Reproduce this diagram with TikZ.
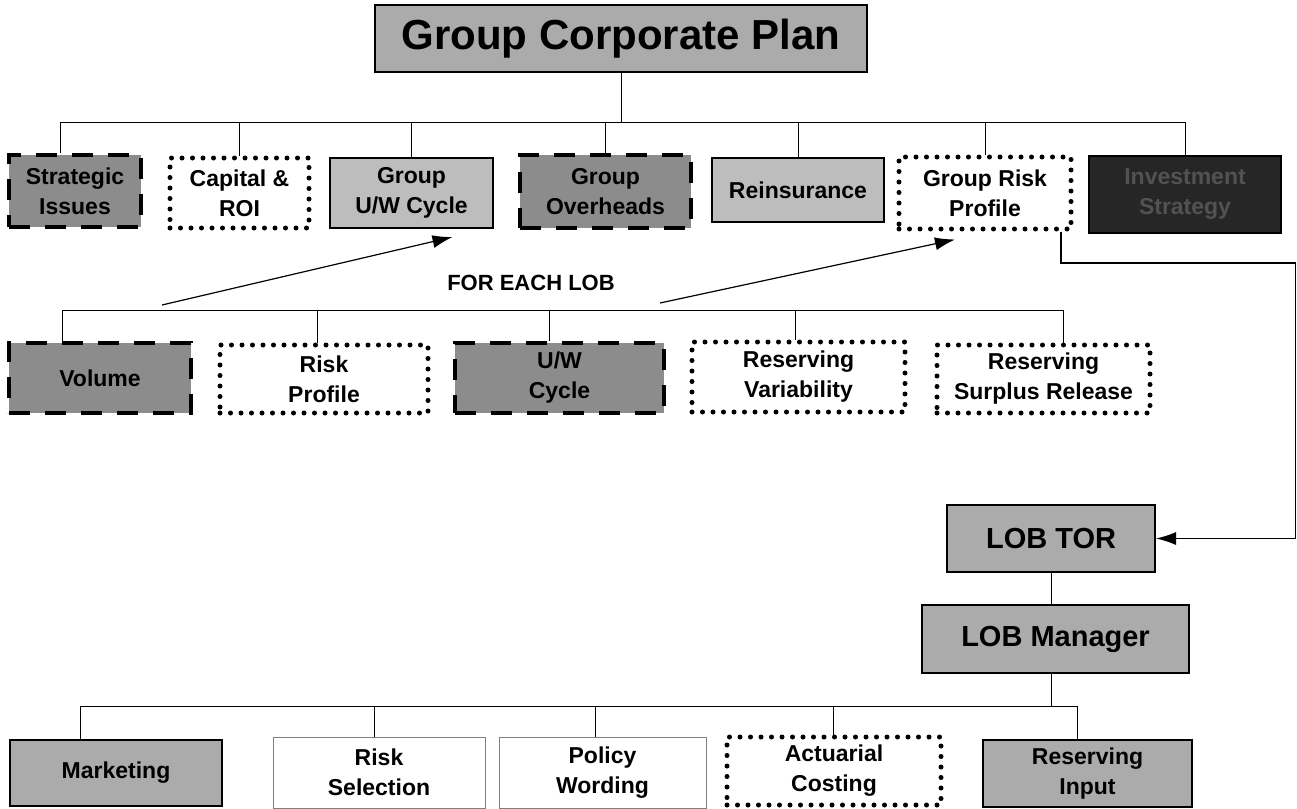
\documentclass[tikz,border=0pt]{standalone}
\usepackage{fontspec}
\setmainfont{Liberation Sans}
\usetikzlibrary{arrows.meta}

\begin{document}
\begin{tikzpicture}[x=1pt, y=-1pt, font=\bfseries\fontsize{23}{30}\selectfont,
  box/.style={draw, line width=2pt, align=center, inner sep=2pt},
  lite/.style={box, fill=black!26},
  grid/.style={box, fill=black!33},
  dashbox/.style={draw, line width=4.5pt, dash pattern=on 21pt off 15pt, fill=black!45, align=center, inner sep=2pt},
  dotbox/.style={draw, line width=5pt, line cap=round, dash pattern=on 0pt off 10.5pt, fill=white, align=center, inner sep=2pt},
  thinbox/.style={draw=black!50, line width=1pt, fill=white, align=center, inner sep=2pt},
  link/.style={line width=1pt},
  arr/.style={-{Latex[length=20pt, width=13pt]}, line width=1.2pt}]
\useasboundingbox (0,0) rectangle (1297,808);
\node[grid, minimum width=492pt, minimum height=67pt, font=\bfseries\fontsize{42}{50}\selectfont] (title) at (621,38.5) {Group Corporate Plan};
% group level
\node[dashbox, minimum width=132pt, minimum height=72pt] (strat) at (75,191) {Strategic\\Issues};
\node[dotbox, minimum width=139pt, minimum height=70pt] (capital) at (239.5,193) {Capital \&\\ROI};
\node[lite, minimum width=163pt, minimum height=70pt] (guw) at (411.5,193) {Group\\U/W Cycle};
\node[dashbox, minimum width=171pt, minimum height=73pt] (overh) at (605.5,191.5) {Group\\Overheads};
\node[lite, minimum width=172pt, minimum height=64pt] (reins) at (798,190) {Reinsurance};
\node[dotbox, minimum width=172pt, minimum height=72pt] (grp) at (985,193) {Group Risk\\Profile};
\node[box, fill=black!85, text=black!68, minimum width=192pt, minimum height=77pt] (invest) at (1185,194.5) {Investment\\Strategy};
\coordinate (bus1) at (621,122);
\draw[link] (title) -- (bus1);
\draw[link] (bus1) -| ([xshift=-15pt]strat.north);
\foreach \n in {capital,guw,overh,reins,grp,invest} \draw[link] (bus1) -| (\n.north);
% for each lob
\node[font=\bfseries\fontsize{22}{26}\selectfont] (each) at (531,283) {FOR EACH LOB};
\node[dashbox, minimum width=182pt, minimum height=70pt] (vol) at (100,378) {Volume};
\node[dotbox, minimum width=208pt, minimum height=68pt] (rprof) at (324,379) {Risk\\Profile};
\node[dashbox, minimum width=209pt, minimum height=70pt] (uw) at (559.5,378) {U/W\\Cycle};
\node[dotbox, minimum width=213pt, minimum height=70pt] (resvar) at (798.5,377) {Reserving\\Variability};
\node[dotbox, minimum width=213pt, minimum height=68pt] (surplus) at (1043.5,379) {Reserving\\Surplus Release};
\coordinate (bus2) at (62,310);
\draw[link] (bus2) -| ([xshift=-38pt]vol.north);
\foreach \n/\s in {rprof/-7, uw/-10, resvar/-3, surplus/20} \draw[link] (bus2) -| ([xshift=\s pt]\n.north);
\coordinate (a1) at (162,305);
\coordinate (a2) at (660,303);
\draw[arr] (a1) -- ([xshift=41pt, yshift=-8pt]guw.south);
\draw[arr] (a2) -- ([xshift=-30pt, yshift=-8pt]grp.south);
% lob
\node[grid, minimum width=208pt, minimum height=67pt, font=\bfseries\fontsize{29}{34}\selectfont] (lobtor) at (1051,538.5) {LOB TOR};
\node[grid, minimum width=267pt, minimum height=68pt, font=\bfseries\fontsize{29}{34}\selectfont] (mgr) at (1055.5,639) {LOB Manager};
\coordinate (turn) at (1295.5,263);
\draw[arr] ([xshift=76pt]grp.south) |- (turn) |- (lobtor.east);
\draw[link] (lobtor.south) -- (lobtor.south |- mgr.north);
\node[grid, minimum width=212pt, minimum height=66pt] (mkt) at (116,773) {Marketing};
\node[thinbox, minimum width=212pt, minimum height=71pt] (rsel) at (379,772.5) {Risk\\Selection};
\node[thinbox, minimum width=207pt, minimum height=71pt] (pwrd) at (602.5,772.5) {Policy\\Wording};
\node[dotbox, minimum width=214pt, minimum height=68pt] (act) at (834,771) {Actuarial\\Costing};
\node[grid, minimum width=209pt, minimum height=67pt] (rin) at (1087.5,773.5) {Reserving\\Input};
\coordinate (bus3) at (1051,706);
\draw[link] (bus3 |- mgr.south) -- (bus3);
\foreach \n/\s in {mkt/-36, rsel/-5, pwrd/-7, act/-1, rin/-10} \draw[link] (bus3) -| ([xshift=\s pt]\n.north);
\end{tikzpicture}
\end{document}
